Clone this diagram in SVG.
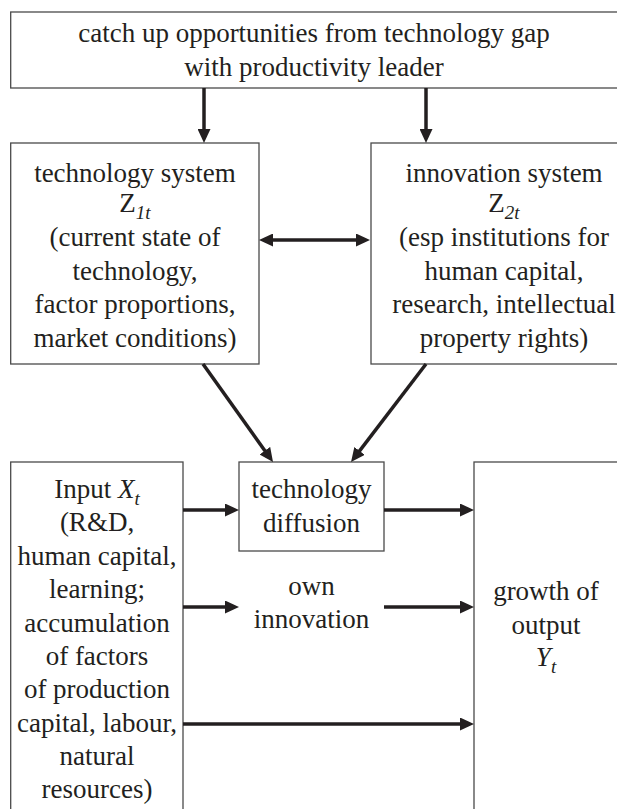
<svg xmlns="http://www.w3.org/2000/svg" width="617" height="809" viewBox="0 0 617 809">
<style>
.box{fill:#fff;stroke:#4a4a4a;stroke-width:1.3}
.t{font-family:"Liberation Serif","Times New Roman",serif;font-size:27px;fill:#231f20;text-anchor:middle}
.i{font-style:italic}
.sub{font-size:19px;font-style:italic}
.c{stroke:#231f20;stroke-width:3.5;fill:none}
</style>
<defs>
<marker id="ah" viewBox="0 0 14 13" refX="4" refY="6.5" markerWidth="14" markerHeight="13" markerUnits="userSpaceOnUse" orient="auto-start-reverse">
<path d="M0,0 L14,6.5 L0,13 Z" fill="#231f20"/>
</marker>
</defs>
<rect width="617" height="809" fill="#fff"/>
<g id="catchup">
<rect class="box" x="10.7" y="12" width="620" height="76"/>
<text class="t" x="314" y="42">catch up opportunities from technology gap</text>
<text class="t" x="314" y="76">with productivity leader</text>
</g>
<g id="techsystem">
<rect class="box" x="10.7" y="143" width="248.3" height="221"/>
<text class="t" x="135" y="182">technology system</text>
<text class="t" x="135" y="212">Z<tspan class="sub" dy="7">1t</tspan></text>
<text class="t" x="135" y="246">(current state of</text>
<text class="t" x="135" y="280">technology,</text>
<text class="t" x="135" y="313">factor proportions,</text>
<text class="t" x="135" y="347">market conditions)</text>
</g>
<g id="innovsystem">
<rect class="box" x="371" y="143" width="270" height="221"/>
<text class="t" x="504" y="182">innovation system</text>
<text class="t" x="504" y="212">Z<tspan class="sub" dy="7">2t</tspan></text>
<text class="t" x="504" y="246">(esp institutions for</text>
<text class="t" x="504" y="280">human capital,</text>
<text class="t" x="504" y="313">research, intellectual</text>
<text class="t" x="504" y="347">property rights)</text>
</g>
<g id="diffusion">
<rect class="box" x="239" y="462" width="145" height="89"/>
<text class="t" x="311.5" y="498">technology</text>
<text class="t" x="311.5" y="532">diffusion</text>
</g>
<g id="input">
<rect class="box" x="10.7" y="462" width="172.3" height="360"/>
<text class="t" x="97" y="498">Input <tspan class="i">X</tspan><tspan class="sub" dy="7">t</tspan></text>
<text class="t" x="97" y="531">(R&amp;D,</text>
<text class="t" x="97" y="565">human capital,</text>
<text class="t" x="97" y="598">learning;</text>
<text class="t" x="97" y="631.5">accumulation</text>
<text class="t" x="97" y="665">of factors</text>
<text class="t" x="97" y="698">of production</text>
<text class="t" x="97" y="731.5">capital, labour,</text>
<text class="t" x="97" y="765">natural</text>
<text class="t" x="97" y="798">resources)</text>
</g>
<g id="owninnovation">
<text class="t" x="311.5" y="595">own</text>
<text class="t" x="311.5" y="628">innovation</text>
</g>
<g id="output">
<rect class="box" x="474" y="462" width="170" height="360"/>
<text class="t" x="546" y="600">growth of</text>
<text class="t" x="546" y="634">output</text>
<text class="t" x="546" y="666"><tspan class="i">Y</tspan><tspan class="sub" dy="7">t</tspan></text>
</g>
<g id="connectors">
<line class="c" x1="204" y1="88" x2="204" y2="133" marker-end="url(#ah)"/>
<line class="c" x1="426" y1="88" x2="426" y2="133" marker-end="url(#ah)"/>
<line class="c" x1="269" y1="240" x2="360" y2="240" marker-start="url(#ah)" marker-end="url(#ah)"/>
<line class="c" x1="203" y1="364" x2="267.2" y2="453.9" marker-end="url(#ah)"/>
<line class="c" x1="426" y1="364" x2="357.1" y2="454.1" marker-end="url(#ah)"/>
<line class="c" x1="183" y1="510" x2="229" y2="510" marker-end="url(#ah)"/>
<line class="c" x1="384" y1="510" x2="464" y2="510" marker-end="url(#ah)"/>
<line class="c" x1="183" y1="607" x2="229" y2="607" marker-end="url(#ah)"/>
<line class="c" x1="384" y1="607" x2="464" y2="607" marker-end="url(#ah)"/>
<line class="c" x1="183" y1="724" x2="464" y2="724" marker-end="url(#ah)"/>
</g>
</svg>
